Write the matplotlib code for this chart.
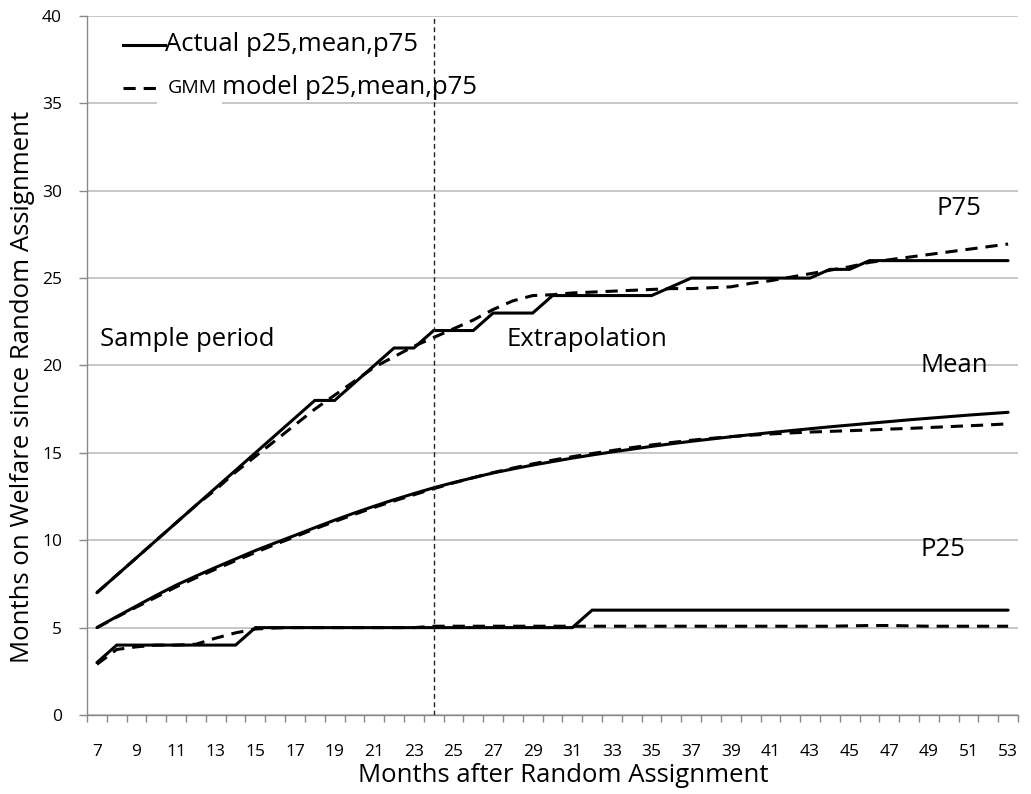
import numpy as np
import matplotlib
matplotlib.use("Agg")
import matplotlib.pyplot as plt
from matplotlib.patches import Rectangle

plt.rcParams['font.family'] = ['Open Sans', 'DejaVu Sans']

months = list(range(7, 54))

p75_actual = [7, 8, 9, 10, 11, 12, 13, 14, 15, 16, 17, 18, 18, 19, 20, 21, 21,
              22, 22, 22, 23, 23, 23, 24, 24, 24, 24, 24, 24, 24.5, 25, 25, 25,
              25, 25, 25, 25, 25.5, 25.5, 26, 26, 26, 26, 26, 26, 26, 26]
p75_model = [7.0, 8.0, 9.0, 10.0, 11.0, 12.0, 12.9, 13.9, 14.8, 15.7, 16.6,
             17.5, 18.3, 19.1, 19.9, 20.5, 21.1, 21.6, 22.1, 22.6, 23.2, 23.7,
             24.0, 24.05, 24.15, 24.2, 24.25, 24.3, 24.35, 24.4, 24.4, 24.45,
             24.5, 24.7, 24.85, 25.05, 25.25, 25.45, 25.65, 25.9, 26.05, 26.2,
             26.35, 26.5, 26.65, 26.8, 26.95]

mean_actual = [5.00, 5.63, 6.24, 6.85, 7.43, 7.95, 8.45, 8.93, 9.41, 9.85,
               10.28, 10.72, 11.15, 11.56, 11.95, 12.32, 12.67, 13.00, 13.30,
               13.58, 13.85, 14.08, 14.30, 14.50, 14.70, 14.88, 15.05, 15.21,
               15.37, 15.52, 15.66, 15.79, 15.92, 16.04, 16.16, 16.27, 16.38,
               16.49, 16.59, 16.69, 16.79, 16.89, 16.98, 17.07, 17.16, 17.24,
               17.32]
mean_model = [5.00, 5.60, 6.18, 6.75, 7.33, 7.85, 8.35, 8.83, 9.30, 9.76,
              10.20, 10.65, 11.07, 11.48, 11.88, 12.25, 12.60, 12.95, 13.28,
              13.58, 13.87, 14.13, 14.37, 14.58, 14.78, 14.96, 15.13, 15.30,
              15.45, 15.59, 15.72, 15.83, 15.93, 16.01, 16.08, 16.14, 16.19,
              16.23, 16.27, 16.31, 16.36, 16.40, 16.45, 16.50, 16.55, 16.60,
              16.66]

p25_actual = [3, 4, 4, 4, 4, 4, 4, 4, 5, 5, 5, 5, 5, 5, 5, 5, 5, 5, 5, 5, 5,
              5, 5, 5, 5, 6, 6, 6, 6, 6, 6, 6, 6, 6, 6, 6, 6, 6, 6, 6, 6, 6,
              6, 6, 6, 6, 6]
p25_model = [2.9, 3.75, 3.9, 4.0, 4.0, 4.05, 4.4, 4.7, 4.92, 4.98, 5.0, 5.0,
             5.0, 5.0, 5.0, 5.0, 5.0, 5.08, 5.08, 5.08, 5.08, 5.08, 5.08, 5.08,
             5.08, 5.08, 5.08, 5.08, 5.08, 5.08, 5.08, 5.08, 5.08, 5.08, 5.08,
             5.08, 5.08, 5.08, 5.1, 5.12, 5.12, 5.1, 5.08, 5.08, 5.08, 5.08,
             5.08]

split_month = 24

fig = plt.figure(figsize=(10.31, 7.94), dpi=100)
ax = fig.add_axes([0.0844, 0.0995, 0.903, 0.8804])

lw = 2.2
dash = (4, 2.6)
for actual, model in [(p75_actual, p75_model), (mean_actual, mean_model),
                      (p25_actual, p25_model)]:
    ax.plot(months, model, color='black', lw=lw, dashes=dash, zorder=3)
    ax.plot(months, actual, color='black', lw=lw, solid_capstyle='round',
            solid_joinstyle='miter', zorder=4)

ax.axvline(split_month, color='#222222', lw=1.0, dashes=(3.5, 2.5), zorder=5)

# axes styling
ax.set_xlim(6.5, 53.5)
ax.set_ylim(0, 40)
ax.set_yticks(np.arange(0, 41, 5))
ax.set_xticks(months[::2])
ax.set_xticks(np.arange(6.5, 54, 1), minor=True)
ax.tick_params(axis='x', which='major', length=0, pad=21, labelsize=12.5)
ax.tick_params(axis='x', which='minor', length=5, color='#888888', width=1)
ax.tick_params(axis='y', length=6, color='#888888', width=1, pad=12,
               labelsize=12.5)
ax.grid(axis='y', color='#b8b8b8', lw=1.1, zorder=0)
ax.set_axisbelow(True)
for s in ['top', 'right']:
    ax.spines[s].set_visible(False)
for s in ['left', 'bottom']:
    ax.spines[s].set_color('#888888')
    ax.spines[s].set_linewidth(1.0)

ax.set_xlabel('Months after Random Assignment', fontsize=18.5)
ax.set_ylabel('Months on Welfare since Random Assignment', fontsize=18.5)
ax.xaxis.set_label_coords(0.512, -0.0687)
ax.yaxis.set_label_coords(-0.0559, 0.47)

# annotations
ax.text(7.15, 21.5, 'Sample period', fontsize=18.5, ha='left', va='center')
ax.text(27.7, 21.5, 'Extrapolation', fontsize=18.5, ha='left', va='center')
ax.text(50.5, 29.0, 'P75', fontsize=18.5, ha='center', va='center')
ax.text(50.3, 20.0, 'Mean', fontsize=18.5, ha='center', va='center')
ax.text(49.7, 9.45, 'P25', fontsize=18.5, ha='center', va='center')

# legend drawn by hand (Excel style)
tr = ax.transAxes
ax.plot([0.0387, 0.0838], [0.9585, 0.9585], transform=tr, color='black',
        lw=lw, clip_on=False)
ax.text(0.0838, 0.9585, 'Actual p25,mean,p75', transform=tr, fontsize=18.5,
        ha='left', va='center')
ax.plot([0.0387, 0.0752], [0.897, 0.897], transform=tr, color='black',
        lw=lw, dashes=dash, clip_on=False)
ax.add_patch(Rectangle((0.0752, 0.872), 0.0698, 0.05, transform=tr,
                       facecolor='white', edgecolor='none', zorder=2))
ax.text(0.087, 0.897, 'GMM', transform=tr, fontsize=14, ha='left',
        va='center', zorder=6)
ax.text(0.145, 0.897, 'model p25,mean,p75', transform=tr, fontsize=18.5,
        ha='left', va='center', zorder=6)

fig.savefig('out.png', dpi=100)
